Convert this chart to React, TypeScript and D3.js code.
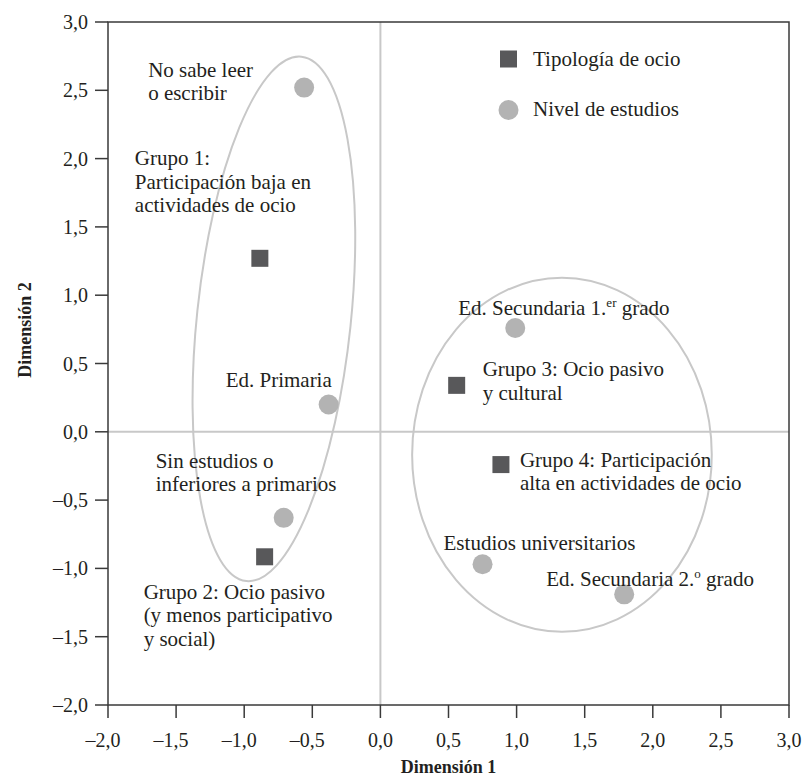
import React from "react";
import * as d3 from "d3";

// ---- data ----
const estudiosNames = ["No sabe leer", "Ed. Primaria", "Sin estudios", "Ed. Secundaria 1er", "Estudios universitarios", "Ed. Secundaria 2o"];
const estudiosX = [-0.56, -0.38, -0.71, 0.99, 0.75, 1.79];
const estudiosY = [2.52, 0.2, -0.63, 0.76, -0.97, -1.19];

const grupoNames = ["Grupo 1", "Grupo 2", "Grupo 3", "Grupo 4"];
const grupoX = [-0.885, -0.85, 0.56, 0.885];
const grupoY = [1.27, -0.915, 0.34, -0.24];

const tickValues = [-2, -1.5, -1, -0.5, 0, 0.5, 1, 1.5, 2, 2.5, 3];

// ellipses (data units): center x, center y, half-width, half-height, rotation deg
const ellipseCX = [-0.782, 1.333];
const ellipseCY = [0.827, -0.168];
const ellipseRX = [0.565, 1.1];
const ellipseRY = [1.93, 1.296];
const ellipseRot = [6, 0];

const legendLabels = ["Tipología de ocio", "Nivel de estudios"];

// label text lines
type Seg = { t: string; sup?: boolean };
const estudiosLabels: Seg[][][] = [
  [[{ t: "No sabe leer" }], [{ t: "o escribir" }]],
  [[{ t: "Ed. Primaria" }]],
  [[{ t: "Sin estudios o" }], [{ t: "inferiores a primarios" }]],
  [[{ t: "Ed. Secundaria 1." }, { t: "er", sup: true }, { t: " grado" }]],
  [[{ t: "Estudios universitarios" }]],
  [[{ t: "Ed. Secundaria 2." }, { t: "o", sup: true }, { t: " grado" }]],
];
const grupoLabels: Seg[][][] = [
  [[{ t: "Grupo 1:" }], [{ t: "Participación baja en" }], [{ t: "actividades de ocio" }]],
  [[{ t: "Grupo 2: Ocio pasivo" }], [{ t: "(y menos participativo" }], [{ t: "y social)" }]],
  [[{ t: "Grupo 3: Ocio pasivo" }], [{ t: "y cultural" }]],
  [[{ t: "Grupo 4: Participación" }], [{ t: "alta en actividades de ocio" }]],
];
// label offsets (px) from point: first-line baseline
const estudiosLabelDX = [-156, -103, -128, -57, -39, -78];
const estudiosLabelDY = [-11, -17, -50, -13, -14, -8];
const grupoLabelDX = [-125, -121, 26, 19];
const grupoLabelDY = [-93, 42, -9, 2];

const W = 804;
const H = 780;
const left = 108;
const right = 789;
const top = 22;
const bottom = 705;

const FONT = "'Liberation Serif', 'Times New Roman', serif";
const TEXT = "#231f20";
const AXIS = "#3a3a3a";
const LIGHT = "#c8c8c8";
const SQ = "#58585a";
const CIR = "#b3b3b3";

const fmt = (v: number) => {
  const s = Math.abs(v).toFixed(1).replace(".", ",");
  return v < 0 ? "\u2013" + s : s;
};

function Label({ x, y, lines, size }: { x: number; y: number; lines: Seg[][]; size: number }) {
  return (
    <text x={x} y={y} fontFamily={FONT} fontSize={size} fill={TEXT}>
      {lines.map((line, i) => (
        <tspan key={i} x={x} y={y + i * 23.5}>
          {line.map((s, j) =>
            s.sup ? (
              <tspan key={j} fontSize={size * 0.62} dy={-8}>
                {s.t}
              </tspan>
            ) : (
              <tspan key={j} dy={j > 0 && line[j - 1].sup ? 8 : 0}>
                {s.t}
              </tspan>
            )
          )}
        </tspan>
      ))}
    </text>
  );
}

export default function App() {
  const x = d3.scaleLinear().domain([-2, 3]).range([left, right]);
  const y = d3.scaleLinear().domain([-2, 3]).range([bottom, top]);
  const sq = 17;
  const r = 10;
  const fs = 21;

  return (
    <svg width={W} height={H} style={{ display: "block", position: "absolute", left: 0, top: 0, background: "#fff" }}>
      {/* zero lines */}
      <line x1={x(0)} x2={x(0)} y1={top} y2={bottom} stroke={LIGHT} strokeWidth={2} />
      <line x1={left} x2={right} y1={y(0)} y2={y(0)} stroke={LIGHT} strokeWidth={2} />

      {/* ellipses */}
      {ellipseCX.map((cx, i) => (
        <ellipse
          key={i}
          cx={0}
          cy={0}
          rx={x(ellipseRX[i]) - x(0)}
          ry={y(0) - y(ellipseRY[i])}
          fill="none"
          stroke={LIGHT}
          strokeWidth={2}
          transform={`translate(${x(cx)},${y(ellipseCY[i])}) rotate(${ellipseRot[i]})`}
        />
      ))}

      {/* frame */}
      <rect x={left} y={top} width={right - left} height={bottom - top} fill="none" stroke={AXIS} strokeWidth={1.5} />

      {/* y ticks */}
      {tickValues.map((v) => (
        <g key={"y" + v}>
          <line x1={left - 13} x2={left} y1={y(v)} y2={y(v)} stroke={AXIS} strokeWidth={1.5} />
          <text x={88} y={y(v) + 7} textAnchor="end" fontFamily={FONT} fontSize={20} fill={TEXT}>
            {fmt(v)}
          </text>
        </g>
      ))}
      {/* x ticks */}
      {tickValues.map((v) => (
        <g key={"x" + v}>
          <line x1={x(v)} x2={x(v)} y1={bottom} y2={bottom + 13} stroke={AXIS} strokeWidth={1.5} />
          <text x={x(v) - (v < 0 ? 5 : 0)} y={747} textAnchor="middle" fontFamily={FONT} fontSize={20} fill={TEXT}>
            {fmt(v)}
          </text>
        </g>
      ))}

      {/* axis titles */}
      <text x={(left + right) / 2} y={773} textAnchor="middle" fontFamily={FONT} fontSize={18} fontWeight="bold" fill={TEXT}>
        Dimensión 1
      </text>
      <text
        transform={`translate(31,330) rotate(-90)`}
        textAnchor="middle"
        fontFamily={FONT}
        fontSize={18}
        fontWeight="bold"
        fill={TEXT}
      >
        Dimensión 2
      </text>

      {/* circles */}
      {estudiosX.map((vx, i) => (
        <circle key={estudiosNames[i]} cx={x(vx)} cy={y(estudiosY[i])} r={r} fill={CIR} />
      ))}
      {/* squares */}
      {grupoX.map((vx, i) => (
        <rect key={grupoNames[i]} x={x(vx) - sq / 2} y={y(grupoY[i]) - sq / 2} width={sq} height={sq} fill={SQ} />
      ))}

      {/* labels */}
      {estudiosX.map((vx, i) => (
        <Label key={"el" + i} x={x(vx) + estudiosLabelDX[i]} y={y(estudiosY[i]) + estudiosLabelDY[i]} lines={estudiosLabels[i]} size={fs} />
      ))}
      {grupoX.map((vx, i) => (
        <Label key={"gl" + i} x={x(vx) + grupoLabelDX[i]} y={y(grupoY[i]) + grupoLabelDY[i]} lines={grupoLabels[i]} size={fs} />
      ))}

      {/* legend */}
      <rect x={500} y={50.5} width={sq} height={sq} fill={SQ} />
      <text x={533} y={66} fontFamily={FONT} fontSize={fs} fill={TEXT}>
        {legendLabels[0]}
      </text>
      <circle cx={508.5} cy={110} r={r} fill={CIR} />
      <text x={533} y={116} fontFamily={FONT} fontSize={fs} fill={TEXT}>
        {legendLabels[1]}
      </text>
    </svg>
  );
}
